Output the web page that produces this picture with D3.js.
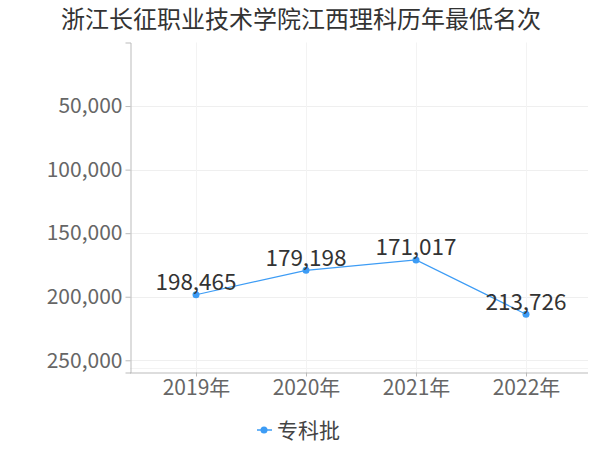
<!DOCTYPE html>
<html><head><meta charset="utf-8">
<script src="https://cdn.jsdelivr.net/npm/d3@7"></script>
<style>body{margin:0;background:#fff}svg{display:block}</style>
</head><body>
<svg id="c" width="600" height="450"></svg>
<script>
const title = "浙江长征职业技术学院江西理科历年最低名次";
const years = ["2019年","2020年","2021年","2022年"];
const values = [198465, 179198, 171017, 213726];
const yTicks = [50000, 100000, 150000, 200000, 250000];
const seriesName = "专科批";

const svg = d3.select("#c");
const font = "'Noto Sans CJK SC','Noto Sans',sans-serif";
const L = 130, R = 588, T = 42.5, B = 372.5;
const x = d3.scalePoint().domain(years).range([141, 581]).padding(0.5);
const y = d3.scaleLinear().domain([0, 259600]).range([T, B]);
const color = "#3d9cf5";

svg.append("text").attr("x", 301).attr("y", 28).attr("text-anchor", "middle")
  .attr("font-family", font).attr("font-size", 24).attr("fill", "#333").text(title);

// grid
svg.append("g").selectAll("line").data(yTicks).join("line")
  .attr("x1", L).attr("x2", R).attr("y1", d => Math.round(y(d)) + 0.5).attr("y2", d => Math.round(y(d)) + 0.5)
  .attr("stroke", "#efefef");
svg.append("g").selectAll("line").data(years).join("line")
  .attr("x1", d => Math.round(x(d)) + 0.5).attr("x2", d => Math.round(x(d)) + 0.5).attr("y1", T).attr("y2", B)
  .attr("stroke", "#f3f3f3");
svg.append("line").attr("x1", L).attr("x2", R).attr("y1", 368.5).attr("y2", 368.5).attr("stroke", "#f3f3f3");

// y axis
const ya = svg.append("g").attr("transform", `translate(${L + 0.5},0)`)
  .call(d3.axisLeft(y).tickValues(yTicks).tickSize(5).tickPadding(3).tickFormat(d3.format(",")));
ya.select(".domain").attr("stroke", "#bbb");
ya.selectAll(".tick line").attr("stroke", "#bbb");
ya.selectAll("text").attr("font-family", font).attr("font-size", 21).attr("fill", "#666");

// x axis
const xa = svg.append("g").attr("transform", `translate(0,${B})`)
  .call(d3.axisBottom(x).tickSize(4).tickPadding(4).tickSizeOuter(0));
xa.select(".domain").attr("stroke", "#bbb").attr("d", `M${L},0.5H${R}`);
xa.selectAll(".tick line").attr("stroke", "#bbb");
xa.selectAll("text").attr("font-family", font).attr("font-size", 21).attr("fill", "#666");

// line
const data = years.map((d, i) => ({year: d, v: values[i]}));
svg.append("path").datum(data)
  .attr("d", d3.line().x(d => x(d.year)).y(d => y(d.v)))
  .attr("fill", "none").attr("stroke", color).attr("stroke-width", 1.2);
svg.append("g").selectAll("circle").data(data).join("circle")
  .attr("cx", d => x(d.year)).attr("cy", d => y(d.v)).attr("r", 3.5).attr("fill", color);
svg.append("g").selectAll("text").data(data).join("text")
  .attr("x", d => x(d.year)).attr("y", d => y(d.v) - 4.5).attr("text-anchor", "middle")
  .attr("font-family", font).attr("font-size", 22.5).attr("fill", "#333")
  .text(d => d3.format(",")(d.v));

// legend
const lg = svg.append("g").attr("transform", "translate(264,430)");
lg.append("line").attr("x1", -7).attr("x2", 8).attr("stroke", color).attr("stroke-width", 1.5);
lg.append("circle").attr("r", 3.5).attr("fill", color);
lg.append("text").attr("x", 13).attr("y", 7.5).attr("font-family", font).attr("font-size", 21)
  .attr("fill", "#444").text(seriesName);
</script>
</body></html>
